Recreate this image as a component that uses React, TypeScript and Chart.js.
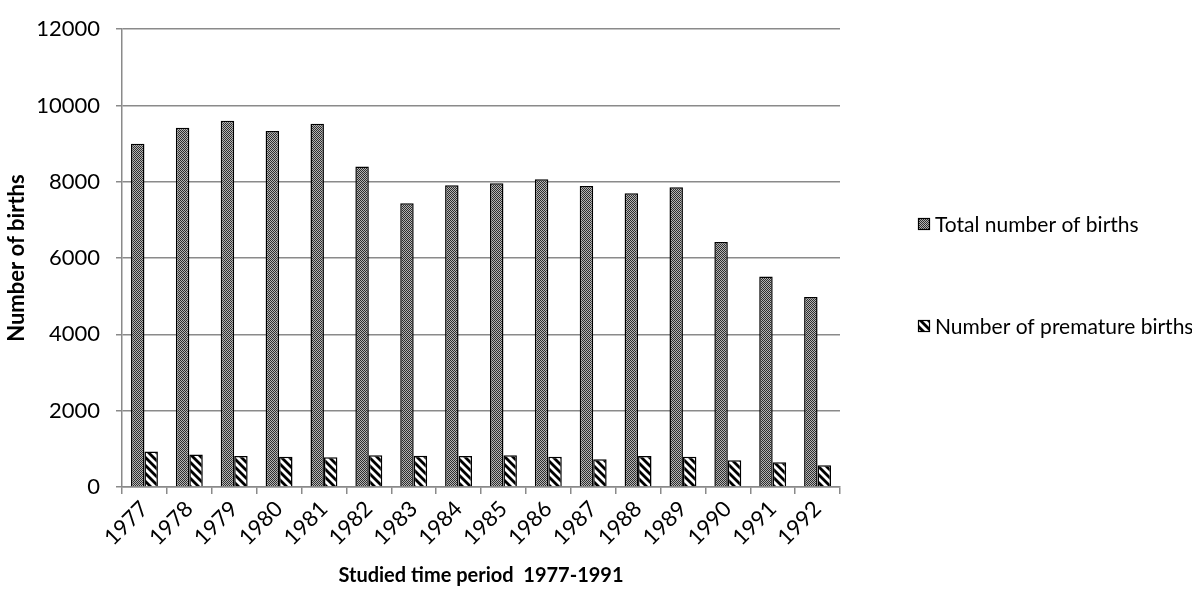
import React, { useEffect, useRef } from "react";
import { Chart, registerables } from "chart.js";

Chart.register(...registerables);

const years = ["1977","1978","1979","1980","1981","1982","1983","1984","1985","1986","1987","1988","1989","1990","1991","1992"];
const totalBirths = [9000,9420,9600,9330,9520,8400,7440,7910,7960,8070,7890,7700,7860,6420,5520,4980];
const prematureBirths = [930,850,810,790,780,830,820,810,830,790,730,810,790,700,650,570];
const seriesLabels = ["Total number of births", "Number of premature births"];
const yTicks = [0,2000,4000,6000,8000,10000,12000];

const FONT = "Lato";

function makeChecker(ctx: CanvasRenderingContext2D) {
  const c = document.createElement("canvas");
  c.width = 2; c.height = 2;
  const g = c.getContext("2d")!;
  g.fillStyle = "#b4b4b4"; g.fillRect(0, 0, 2, 2);
  g.fillStyle = "#2e2e2e"; g.fillRect(0, 0, 1, 1); g.fillRect(1, 1, 1, 1);
  return ctx.createPattern(c, "repeat")!;
}

function makeStripes(ctx: CanvasRenderingContext2D) {
  const n = 8;
  const c = document.createElement("canvas");
  c.width = n; c.height = n;
  const g = c.getContext("2d")!;
  g.fillStyle = "#ffffff"; g.fillRect(0, 0, n, n);
  g.strokeStyle = "#000000"; g.lineWidth = 2.8;
  for (const k of [-n, 0, n]) {
    g.beginPath(); g.moveTo(-1, k - 1); g.lineTo(n + 1, n + k + 1); g.stroke();
  }
  return ctx.createPattern(c, "repeat")!;
}

export default function App() {
  const ref = useRef<HTMLCanvasElement | null>(null);
  useEffect(() => {
    document.body.style.margin = "0";
    const canvas = ref.current!;
    const ctx = canvas.getContext("2d")!;
    const checker = makeChecker(ctx);
    const stripes = makeStripes(ctx);
    const fills = [checker, stripes];

    const legendPlugin = {
      id: "customLegend",
      afterDraw(chart: any) {
        const c = chart.ctx;
        const area = chart.chartArea;
        const x0 = area.right + 78;
        const ys = [224, 326];
        c.save();
        chart.data.datasets.forEach((ds: any, i: number) => {
          const y = ys[i];
          c.fillStyle = fills[i];
          c.fillRect(x0, y - 6, 12, 12);
          c.strokeStyle = "#000";
          c.lineWidth = 1.2;
          c.strokeRect(x0 + 0.5, y - 5.5, 11, 11);
          c.fillStyle = "#000";
          c.font = `21px ${FONT}`;
          c.textBaseline = "middle";
          c.textAlign = "left";
          c.fillText(ds.label, x0 + 17, y + 1);
        });
        c.restore();
      },
    };

    const chart = new Chart(canvas, {
      type: "bar",
      data: {
        labels: years,
        datasets: [
          { label: seriesLabels[0], data: totalBirths, backgroundColor: checker as any, borderColor: "#000", borderWidth: 1.5 },
          { label: seriesLabels[1], data: prematureBirths, backgroundColor: stripes as any, borderColor: "#000", borderWidth: 1.5 },
        ],
      },
      options: {
        animation: false,
        responsive: false,
        layout: { padding: { left: 0, right: 352, top: 26, bottom: 0 } },
        datasets: { bar: { categoryPercentage: 0.6, barPercentage: 1.0 } },
        plugins: { legend: { display: false }, tooltip: { enabled: false } },
        scales: {
          x: {
            afterFit(scale: any) { scale.height = 103; },
            grid: { display: true, drawOnChartArea: false, drawTicks: true, tickLength: 7, color: "#8a8a8a", lineWidth: 1.5, offset: true },
            border: { display: true, color: "#8a8a8a", width: 1.5 },
            ticks: { maxRotation: 45, minRotation: 45, padding: 2, color: "#000", font: { family: FONT, size: 22 } },
            title: { display: true, text: "Studied time period  1977-1991", color: "#000", font: { family: FONT, size: 20, weight: "bold" }, padding: { top: 0, bottom: 2 } },
          },
          y: {
            min: 0,
            max: 12000,
            afterFit(scale: any) { scale.width = 122; },
            afterBuildTicks(scale: any) { scale.ticks = yTicks.map((v) => ({ value: v })); },
            grid: { color: "#8a8a8a", lineWidth: 1.5, tickLength: 6, drawTicks: true },
            border: { display: true, color: "#8a8a8a", width: 1.5 },
            ticks: { padding: 16, color: "#000", font: { family: FONT, size: 22 }, callback: (v: any) => String(v) },
            title: { display: true, text: "Number of births", color: "#000", font: { family: FONT, size: 22, weight: "bold" }, padding: { top: 4, bottom: 0 } },
          },
        },
      },
      plugins: [legendPlugin],
    });
    return () => chart.destroy();
  }, []);
  return (
    <div style={{ width: 1192, height: 590 }}>
      <canvas ref={ref} width={1192} height={590} />
    </div>
  );
}
